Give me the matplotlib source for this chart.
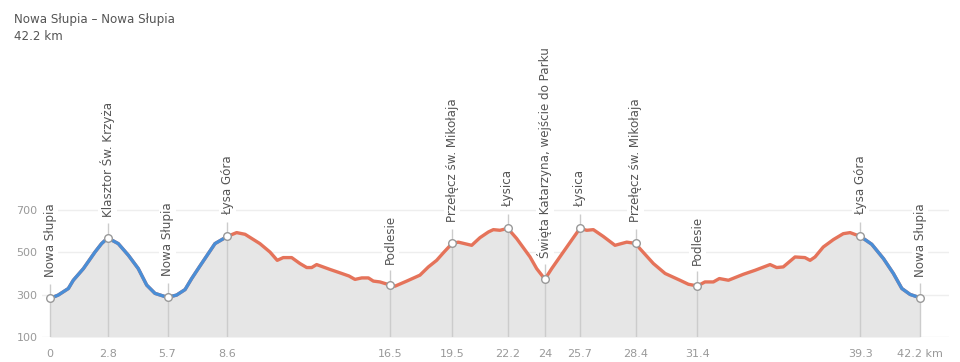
"""
Elevation profile of the Nowa Słupia loop (42.2 km).
"""
import numpy as np
import matplotlib
matplotlib.use("Agg")
import matplotlib.pyplot as plt

TITLE = "Nowa Słupia – Nowa Słupia"
SUBTITLE = "42.2 km"

# profile (km, m a.s.l.)
PROFILE_KM = [0.0, 0.4, 0.89, 1.13, 1.62, 2.18, 2.5, 2.8, 3.31, 3.8, 4.28, 4.69, 5.09,
              5.7, 6.14, 6.55, 6.87, 7.27, 8.0, 8.6, 9.05, 9.46, 10.18, 10.67, 11.02,
              11.31, 11.72, 12.12, 12.45, 12.69, 12.93, 13.58, 14.06, 14.5, 14.79,
              15.12, 15.44, 15.68, 16.0, 16.5, 16.73, 17.3, 17.94, 18.35, 18.75, 19.07,
              19.5, 19.8, 20.45, 20.85, 21.26, 21.5, 21.82, 22.2, 22.63, 23.28, 23.6,
              24.0, 24.33, 24.89, 25.38, 25.7, 26.03, 26.35, 26.83, 27.4, 27.97, 28.4,
              28.61, 29.26, 29.83, 30.55, 30.96, 31.4, 31.76, 32.17, 32.46, 32.9, 33.62,
              34.19, 34.92, 35.24, 35.56, 36.13, 36.61, 36.86, 37.1, 37.5, 37.99, 38.47,
              38.8, 39.3, 39.85, 40.42, 40.9, 41.31, 41.71, 42.2]
PROFILE_ELEV = [282, 298, 329, 368, 423, 501, 541, 568, 541, 486, 423, 345, 306,
                287, 298, 324, 376, 435, 541, 575, 593, 585, 541, 501, 462,
                475, 475, 447, 428, 428, 442, 419, 403, 388, 372,
                379, 379, 364, 360, 345, 340, 364, 392, 431, 462, 497,
                542, 548, 533, 569, 596, 607, 604, 613, 565, 478, 423,
                373, 423, 501, 569, 613, 604, 607, 575, 533, 548, 542,
                517, 447, 400, 368, 349, 341, 360, 360, 376, 368, 396,
                415, 442, 428, 431, 478, 475, 462, 478, 525, 560, 588,
                593, 575, 538, 470, 400, 329, 301, 285]

# named points along the route
WAYPOINT_KM = [0, 2.8, 5.7, 8.6, 16.5, 19.5, 22.2, 24, 25.7, 28.4, 31.4, 39.3, 42.2]
WAYPOINT_ELEV = [282, 568, 287, 575, 345, 542, 613, 373, 613, 542, 341, 575, 285]
WAYPOINT_NAMES = ["Nowa Słupia", "Klasztor Św. Krzyża", "Nowa Słupia", "Łysa Góra",
                  "Podlesie", "Przełęcz św. Mikołaja", "Łysica",
                  "Święta Katarzyna, wejście do Parku", "Łysica",
                  "Przełęcz św. Mikołaja", "Podlesie", "Łysa Góra", "Nowa Słupia"]
TICK_LABELS = ["0", "2.8", "5.7", "8.6", "16.5", "19.5", "22.2", "24", "25.7",
               "28.4", "31.4", "39.3", "42.2 km"]

# stretches drawn in blue (the rest is red)
BLUE_RANGES = [(0, 8.6), (39.3, 42.2)]

Y_TICKS = [100, 300, 500, 700]

BLUE = "#4a8ed6"
RED = "#e5735a"


def main():
    km = np.array(PROFILE_KM)
    elev = np.array(PROFILE_ELEV)

    fig = plt.figure(figsize=(9.6, 3.62), dpi=100)
    ax = fig.add_axes([0.0435, 0.0691, 0.9451, 0.386])
    ax.set_xlim(-0.4, 43.6)
    ax.set_ylim(100, 760)

    ax.fill_between(km, elev, 100, color="#e6e6e6", lw=0, zorder=1)

    # red for the whole route, blue over the marked stretches
    ax.plot(km, elev, color=RED, lw=2.4, solid_capstyle="round", zorder=3)
    for a, b in BLUE_RANGES:
        m = (km >= a) & (km <= b)
        ax.plot(km[m], elev[m], color=BLUE, lw=2.4, solid_capstyle="round", zorder=4)

    # vertical markers with labels
    for x, y, name in zip(WAYPOINT_KM, WAYPOINT_ELEV, WAYPOINT_NAMES):
        ax.vlines(x, 100, y + 70, color="#cccccc", lw=1, zorder=2)
        ax.annotate(name, (x, y), xytext=(0, 21), textcoords="offset pixels",
                    rotation=90, ha="center", va="bottom", fontsize=8.6,
                    color="#555555", annotation_clip=False, zorder=6,
                    bbox=dict(boxstyle="square,pad=0.15", fc="white", ec="none"))
    ax.scatter(WAYPOINT_KM, WAYPOINT_ELEV, s=30, facecolor="white",
               edgecolor="#999999", linewidth=1, zorder=5)

    ax.set_xticks(WAYPOINT_KM)
    ax.set_xticklabels(TICK_LABELS)
    ax.set_yticks(Y_TICKS)
    ax.tick_params(axis="both", length=0, labelsize=8, labelcolor="#999999")
    ax.tick_params(axis="x", pad=9)
    ax.tick_params(axis="y", pad=3)
    ax.grid(axis="y", color="#eeeeee", lw=1, zorder=0)
    ax.set_axisbelow(True)
    for s in ax.spines.values():
        s.set_visible(False)

    fig.text(14 / 960, 1 - 19 / 362, TITLE, fontsize=8.6, color="#555555", va="center")
    fig.text(14 / 960, 1 - 36 / 362, SUBTITLE, fontsize=8.6, color="#555555", va="center")

    fig.savefig("out.png", dpi=100)


if __name__ == "__main__":
    main()
